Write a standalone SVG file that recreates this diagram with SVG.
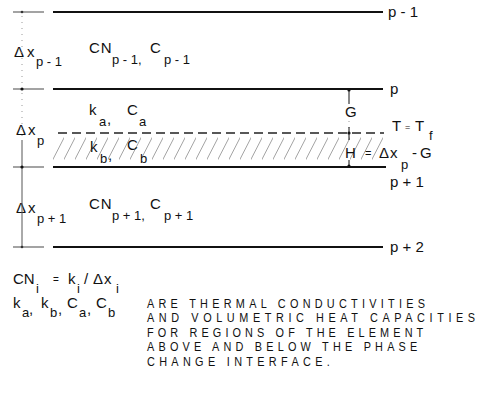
<svg xmlns="http://www.w3.org/2000/svg" width="485" height="397" viewBox="0 0 485 397">
<style>
.t{font-family:"Liberation Sans",Arial,sans-serif;font-size:15px;fill:#111}
.s{font-size:13px}
.cap{font-family:"Liberation Sans",Arial,sans-serif;font-size:12.8px;fill:#111}
.ln{stroke:#111;stroke-width:2;fill:none}
.sd{stroke:#666;stroke-width:1.2;fill:none}
.vl{stroke:#555;stroke-width:1;fill:none}
.dot{stroke:#999;stroke-width:1;stroke-dasharray:1 5;fill:none}
.mk{stroke:#111;stroke-width:1;fill:none}
</style>
<defs>
<pattern id="hatch" patternUnits="userSpaceOnUse" width="11" height="33" x="53" y="134">
<path d="M-4,33 L13,0" stroke="#999" stroke-width="0.9"/>
</pattern>
</defs>

<g id="layer-p-minus-1">
<line class="sd" x1="13" y1="12" x2="44" y2="12"/>
<line class="ln" x1="53" y1="12" x2="383" y2="12"/>
<text class="t" x="388" y="17">p - 1</text>
</g>

<g id="element-p-minus-1">
<text class="t" x="14" y="57">Δ<tspan x="27">x</tspan><tspan class="s" x="36" y="66">p - 1</tspan></text>
<text class="t" x="89" y="53" letter-spacing="1">CN<tspan class="s" letter-spacing="0" x="112" y="64">p - 1,</tspan></text>
<text class="t" x="150" y="53">C<tspan class="s" x="164" y="64">p - 1</tspan></text>
</g>

<g id="layer-p">
<line class="sd" x1="13" y1="89" x2="44" y2="89"/>
<line class="ln" x1="53" y1="89" x2="383" y2="89"/>
<text class="t" x="390" y="94">p</text>
</g>

<g id="element-p">
<rect x="53" y="134" width="330" height="33" fill="url(#hatch)"/>
<line x1="58" y1="133" x2="384" y2="133" stroke="#222" stroke-width="1.5" stroke-dasharray="9 5"/>
<text class="t" x="16" y="135">Δ<tspan x="28">x</tspan><tspan class="s" x="37" y="145">p</tspan></text>
<text class="t" x="89" y="115">k<tspan class="s" x="99" y="126">a</tspan><tspan x="107" y="124">,</tspan></text>
<text class="t" x="127" y="115">C<tspan class="s" x="139" y="126">a</tspan></text>
<text class="t" x="90" y="152">k<tspan class="s" x="100" y="163">b</tspan><tspan x="108" y="160">,</tspan></text>
<text class="t" x="127" y="150">C<tspan class="s" x="140" y="163">b</tspan></text>
<text class="t" x="392" y="131">T<tspan x="405" y="130" font-size="9">=</tspan><tspan x="415" y="131">T</tspan><tspan class="s" x="429" y="140">f</tspan></text>
</g>

<g id="layer-p-plus-1">
<line class="sd" x1="13" y1="167" x2="44" y2="167"/>
<line class="ln" x1="53" y1="167" x2="386" y2="167"/>
<text class="t" x="390" y="187">p + 1</text>
</g>

<g id="element-p-plus-1">
<text class="t" x="16" y="213">Δ<tspan x="28">x</tspan><tspan class="s" x="37" y="223">p + 1</tspan></text>
<text class="t" x="89" y="209" letter-spacing="1">CN<tspan class="s" letter-spacing="0" x="112" y="220">p + 1,</tspan></text>
<text class="t" x="150" y="209">C<tspan class="s" x="164" y="220">p + 1</tspan></text>
</g>

<g id="layer-p-plus-2">
<line class="sd" x1="13" y1="247" x2="44" y2="247"/>
<line class="ln" x1="53" y1="247" x2="383" y2="247"/>
<text class="t" x="390" y="252">p + 2</text>
</g>

<g id="connectors">
<line class="dot" x1="22" y1="16" x2="22" y2="86"/>
<line class="dot" x1="22" y1="93" x2="22" y2="140"/>
<line class="vl" x1="22" y1="140" x2="22" y2="167"/>
<line class="vl" x1="22" y1="167" x2="22" y2="247"/>
<circle cx="22" cy="12" r="1.3" fill="#333"/>
<circle cx="22" cy="89" r="1.6" fill="#111"/>
<circle cx="22" cy="167" r="1.6" fill="#111"/>
<circle cx="22" cy="247" r="1.3" fill="#333"/>
<line class="mk" x1="349" y1="89" x2="349" y2="104"/>
<circle cx="349" cy="90" r="1.6" fill="#111"/>
<text class="t" x="345" y="117">G</text>
<line class="dot" x1="349" y1="121" x2="349" y2="129"/>
<line class="mk" x1="349" y1="127" x2="349" y2="140"/>
<circle cx="349" cy="133" r="1.6" fill="#111"/>
<text class="t" x="345" y="158">H<tspan x="365" y="157" font-size="11">=</tspan><tspan x="379" y="158">Δ</tspan><tspan x="390" y="158">x</tspan><tspan class="s" x="401" y="169">p</tspan><tspan x="412" y="158">-</tspan><tspan x="420" y="158">G</tspan></text>
<line class="mk" x1="349" y1="160" x2="349" y2="167"/>
<circle cx="349" cy="166" r="1.6" fill="#111"/>
</g>

<g id="legend">
<text class="t" x="13" y="284">CN<tspan class="s" x="36" y="293">i</tspan><tspan x="53" y="283" font-size="10">=</tspan><tspan x="68" y="284">k</tspan><tspan class="s" x="77" y="293">i</tspan><tspan x="84" y="284">/</tspan><tspan x="93" y="284">Δ</tspan><tspan x="104" y="284">x</tspan><tspan class="s" x="116" y="293">i</tspan></text>
<text class="t" x="13" y="308">k<tspan class="s" x="22" y="317">a</tspan><tspan x="29" y="314">,</tspan><tspan x="41" y="308">k</tspan><tspan class="s" x="50" y="317">b</tspan><tspan x="58" y="314">,</tspan><tspan x="67" y="308">C</tspan><tspan class="s" x="79" y="317">a</tspan><tspan x="87" y="314">,</tspan><tspan x="96" y="308">C</tspan><tspan class="s" x="108" y="317">b</tspan></text>
<g transform="translate(147,0) scale(0.85,1)">
<text class="cap" x="0" y="308" textLength="327" lengthAdjust="spacing">ARE THERMAL CONDUCTIVITIES</text>
<text class="cap" x="0" y="322.5" textLength="386" lengthAdjust="spacing">AND VOLUMETRIC HEAT CAPACITIES</text>
<text class="cap" x="0" y="337" textLength="325" lengthAdjust="spacing">FOR REGIONS OF THE ELEMENT</text>
<text class="cap" x="0" y="351.5" textLength="318" lengthAdjust="spacing">ABOVE AND BELOW THE PHASE</text>
<text class="cap" x="0" y="366" textLength="215" lengthAdjust="spacing">CHANGE INTERFACE.</text>
</g>
</g>
</svg>
